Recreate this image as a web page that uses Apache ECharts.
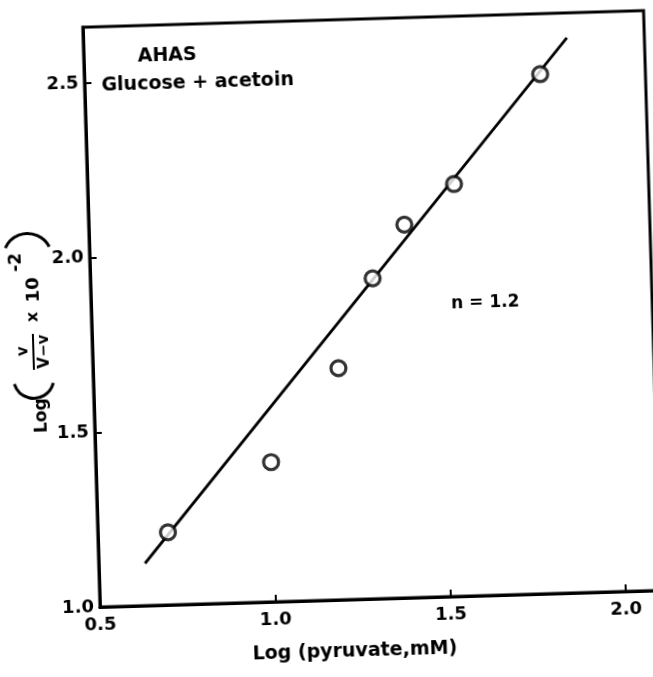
<!DOCTYPE html>
<html>
<head>
<meta charset="utf-8">
<script src="https://cdn.jsdelivr.net/npm/echarts@6/dist/echarts.min.js"></script>
<style>
  html, body { margin: 0; padding: 0; background: #fff; overflow: hidden; }
  #chart {
    position: absolute; left: 0; top: 0;
    width: 680px; height: 700px;
    /* the scanned figure sits slightly tilted */
    transform-origin: 100px 607px;
    transform: rotate(-1.7deg);
  }
</style>
</head>
<body>
<div id="chart"></div>
<script>
// measured points
var pyruvateLog = [0.70, 1.00, 1.20, 1.305, 1.40, 1.545, 1.80];
var ratioLog = [1.208, 1.40, 1.663, 1.917, 2.068, 2.18, 2.487];

// fitted line (n = 1.2)
var fitX = [0.632, 1.879];
var fitY = [1.121, 2.589];

var xTicks = [0.5, 1.0, 1.5, 2.0];
var yTicks = [1.0, 1.5, 2.0, 2.5];

var font = 'DejaVu Sans';

function pairs(xs, ys) {
    return xs.map(function (x, i) { return [x, ys[i]]; });
}

function txt(x, y, text, size, weight) {
    return {
        type: 'text', x: x, y: y,
        style: {
            text: text, font: (weight || 'bold') + ' ' + size + 'px ' + font,
            fill: '#000', align: 'center', verticalAlign: 'middle'
        }
    };
}

function paren(cx, cy, r, a0, a1) {
    return {
        type: 'arc',
        shape: { cx: cx, cy: cy, r: r, startAngle: a0, endAngle: a1, clockwise: true },
        style: { stroke: '#000', lineWidth: 3, fill: null }
    };
}

var chartDom = document.getElementById('chart');
var myChart = echarts.init(chartDom);
var option;

option = {
    animation: false,
    backgroundColor: '#fff',
    grid: {
        left: 100,
        top: 27,
        width: 561,
        height: 580,
        show: true,
        borderColor: '#000',
        borderWidth: 3
    },
    xAxis: {
        type: 'value',
        min: 0.5,
        max: 2.1,
        interval: 0.5,
        name: 'Log (pyruvate,mM)',
        nameLocation: 'middle',
        nameGap: 43,
        nameTextStyle: {
            fontFamily: font, fontWeight: 'bold', fontSize: 19, color: '#000',
            padding: [0, 54, 0, 0]
        },
        axisLine: { lineStyle: { color: '#000', width: 3 } },
        axisTick: {
            inside: true, length: 7, customValues: xTicks,
            lineStyle: { color: '#000', width: 2 }
        },
        axisLabel: {
            customValues: xTicks,
            margin: 9,
            fontFamily: font, fontWeight: 'bold', fontSize: 18, color: '#000',
            formatter: function (v) { return v.toFixed(1); }
        },
        splitLine: { show: false }
    },
    yAxis: {
        type: 'value',
        min: 1.0,
        max: 2.66,
        interval: 0.5,
        axisLine: { lineStyle: { color: '#000', width: 3 } },
        axisTick: {
            inside: true, length: 7, customValues: yTicks,
            lineStyle: { color: '#000', width: 2 }
        },
        axisLabel: {
            customValues: yTicks,
            margin: 6,
            fontFamily: font, fontWeight: 'bold', fontSize: 18, color: '#000',
            formatter: function (v) { return v.toFixed(1); }
        },
        splitLine: { show: false }
    },
    graphic: [
        {
            type: 'text', left: 154, top: 49,
            style: { text: 'AHAS', font: 'bold 19px ' + font, fill: '#000' }
        },
        {
            type: 'text', left: 117, top: 77,
            style: { text: 'Glucose + acetoin', font: 'bold 19px ' + font, fill: '#000' }
        },
        {
            type: 'text', left: 460, top: 306,
            style: { text: 'n = 1.2', font: 'bold 17px ' + font, fill: '#000' }
        },
        {
            // y axis title: Log ( v / (V-v) x 10^-2 ), read bottom to top
            type: 'group',
            x: 43,
            y: 330,
            rotation: Math.PI / 2,
            children: [
                txt(-84, 5, 'Log', 17),
                paren(-46.3, -2.5, 20.2, Math.PI - 1.3, Math.PI + 1.3),
                txt(-19, -12, 'v', 15),
                { type: 'line', shape: { x1: -38, y1: -2, x2: -2, y2: -2 }, style: { stroke: '#000', lineWidth: 2 } },
                txt(-20, 9, 'V\u2212v', 15),
                txt(15, -1, 'x', 16),
                txt(42, 0, '10', 18),
                txt(70, -16, '-2', 17),
                paren(74.2, -5, 24.3, -1.13, 1.13)
            ]
        }
    ],
    series: [
        {
            type: 'line',
            data: pairs(fitX, fitY),
            symbol: 'none',
            lineStyle: { color: '#000', width: 2.8 },
            z: 2
        },
        {
            type: 'scatter',
            data: pairs(pyruvateLog, ratioLog),
            symbol: 'circle',
            symbolSize: 15,
            itemStyle: { color: '#fff', borderColor: '#000', borderWidth: 3.2 },
            z: 3
        }
    ]
};

option && myChart.setOption(option);
</script>
</body>
</html>
